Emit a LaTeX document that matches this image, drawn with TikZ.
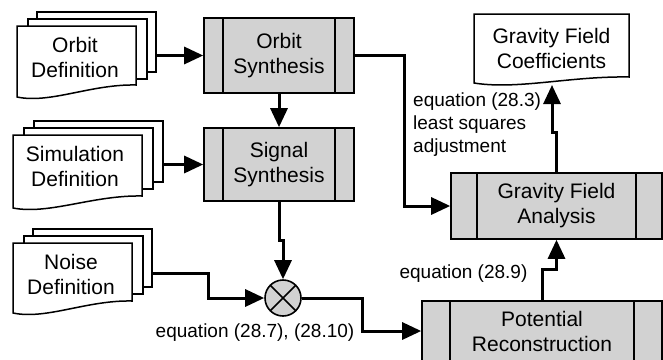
\documentclass[tikz,border=0pt]{standalone}
\usepackage{fontspec}
\setmainfont{Liberation Sans}
\usetikzlibrary{arrows.meta,calc}
\definecolor{boxgray}{RGB}{210,210,210}
\newcommand{\dgnodefont}{\fontsize{21}{25}\selectfont}
\newcommand{\dglabelfont}{\fontsize{19}{23}\selectfont}
% front sheet of a document: x, y (top left), w, h (right side), drop of left bottom
\newcommand{\dcfront}[5]{%
  \pgfmathsetmacro\dcXR{#1+#3}%
  \pgfmathsetmacro\dcYB{#2+#4}%
  \pgfmathsetmacro\dcYL{#2+#4+#5}%
  \pgfmathsetmacro\dcCXa{#1+0.62*#3}%
  \pgfmathsetmacro\dcCYa{#2+#4-1}%
  \pgfmathsetmacro\dcCXb{#1+0.28*#3}%
  \pgfmathsetmacro\dcCYb{#2+#4+#5+7}%
  \draw[docsheet] (#1,#2) -- (\dcXR,#2) -- (\dcXR,\dcYB)
    .. controls (\dcCXa,\dcCYa) and (\dcCXb,\dcCYb) .. (#1,\dcYL) -- cycle;}
\begin{document}
\begin{tikzpicture}[x=1pt,y=-1pt,
  docsheet/.style={draw=black, fill=white, line width=1.5pt, line join=miter},
  backsheet/.style={draw=black, fill=white, line width=1.5pt, inner sep=0pt, anchor=north west},
  doctext/.style={align=center, font=\dgnodefont, inner sep=0pt},
  proc/.style={draw=black, line width=1.6pt, fill=boxgray, inner sep=0pt, align=center, font=\dgnodefont,
    path picture={\draw[line width=1.6pt]
      ([xshift=#1]path picture bounding box.north west) -- ([xshift=#1]path picture bounding box.south west)
      ([xshift=-#1]path picture bounding box.north east) -- ([xshift=-#1]path picture bounding box.south east);}},
  conn/.style={draw=black, line width=3pt, -{Triangle[length=19pt,width=17pt]}},
  lbl/.style={font=\dglabelfont, inner sep=0pt}]
\clip (0,0) rectangle (663,359);
\fill[white] (0,0) rectangle (663,359);

% Orbit Definition
\node[backsheet, minimum width=119pt, minimum height=60pt] (od3) at (36,11) {};
\node[backsheet, minimum width=119pt, minimum height=60pt] (od2) at (27,18) {};
\dcfront{17}{26}{119}{59}{12}
\node[doctext] (odt) at (75,57) {Orbit\\Definition};

% Simulation Definition
\node[backsheet, minimum width=129pt, minimum height=61pt] (sd3) at (33,120) {};
\node[backsheet, minimum width=129pt, minimum height=61pt] (sd2) at (23,127) {};
\dcfront{13}{135}{129}{61}{12}
\node[doctext] (sdt) at (75,166) {Simulation\\Definition};

% Noise Definition
\node[backsheet, minimum width=119pt, minimum height=58pt] (nd3) at (32,228) {};
\node[backsheet, minimum width=119pt, minimum height=58pt] (nd2) at (23,235) {};
\dcfront{13}{243}{119}{58}{12}
\node[doctext] (ndt) at (71,274) {Noise\\Definition};

% Gravity Field Coefficients
\dcfront{474}{14}{155}{63}{6}
\node[doctext] (gfc) at (551.5,48) {Gravity Field\\Coefficients};
\coordinate (gfcin) at (552,85);

% Process boxes
\node[proc=19pt, minimum width=150pt, minimum height=75pt] (os) at (279,55.5) {Orbit\\Synthesis};
\node[proc=19pt, minimum width=150pt, minimum height=73pt] (ss) at (279,164.5) {Signal\\Synthesis};
\node[proc=26pt, minimum width=211pt, minimum height=66pt] (gfa) at (556.5,206) {Gravity Field\\Analysis};
\node[proc=28pt, minimum width=240pt, minimum height=60pt] (pr) at (542,331) {Potential\\Reconstruction};

% Multiplier
\node[circle, draw=black, line width=1.6pt, fill=boxgray, minimum size=36pt, inner sep=0pt,
  path picture={\draw[line width=1.5pt]
    (path picture bounding box.north west) -- (path picture bounding box.south east)
    (path picture bounding box.north east) -- (path picture bounding box.south west);}] (mult) at (283,298) {};

% Connectors
\coordinate (ndk) at (208,298);
\draw[conn] (os.west -| od3.east) -- (os.west);
\draw[conn] (os.south) -- (ss.north);
\draw[conn] (ss.west -| sd3.east) -- (ss.west);
\draw[conn] ([yshift=-15.5pt]nd3.east) -| (ndk) -- (mult.west);
\draw[conn] (ss.south) -- ++(0,39) -| (mult.north);
\draw[conn] (mult.east) -| (362,315) |- (pr.west);
\draw[conn] (os.east) -| (404,130) |- (gfa.west);
\draw[conn] (pr.north) -- ++(0,-31) -| (gfa.south);
\draw[conn] (gfa.north) -- ++(0,-40) -| (gfcin);

% Labels
\node[lbl, anchor=west, align=left] (l1) at (413,125) {equation (28.3)\\least squares\\adjustment};
\node[lbl] (l2) at (463.5,274) {equation (28.9)};
\node[lbl] (l3) at (255,333) {equation (28.7), (28.10)};
\end{tikzpicture}
\end{document}
